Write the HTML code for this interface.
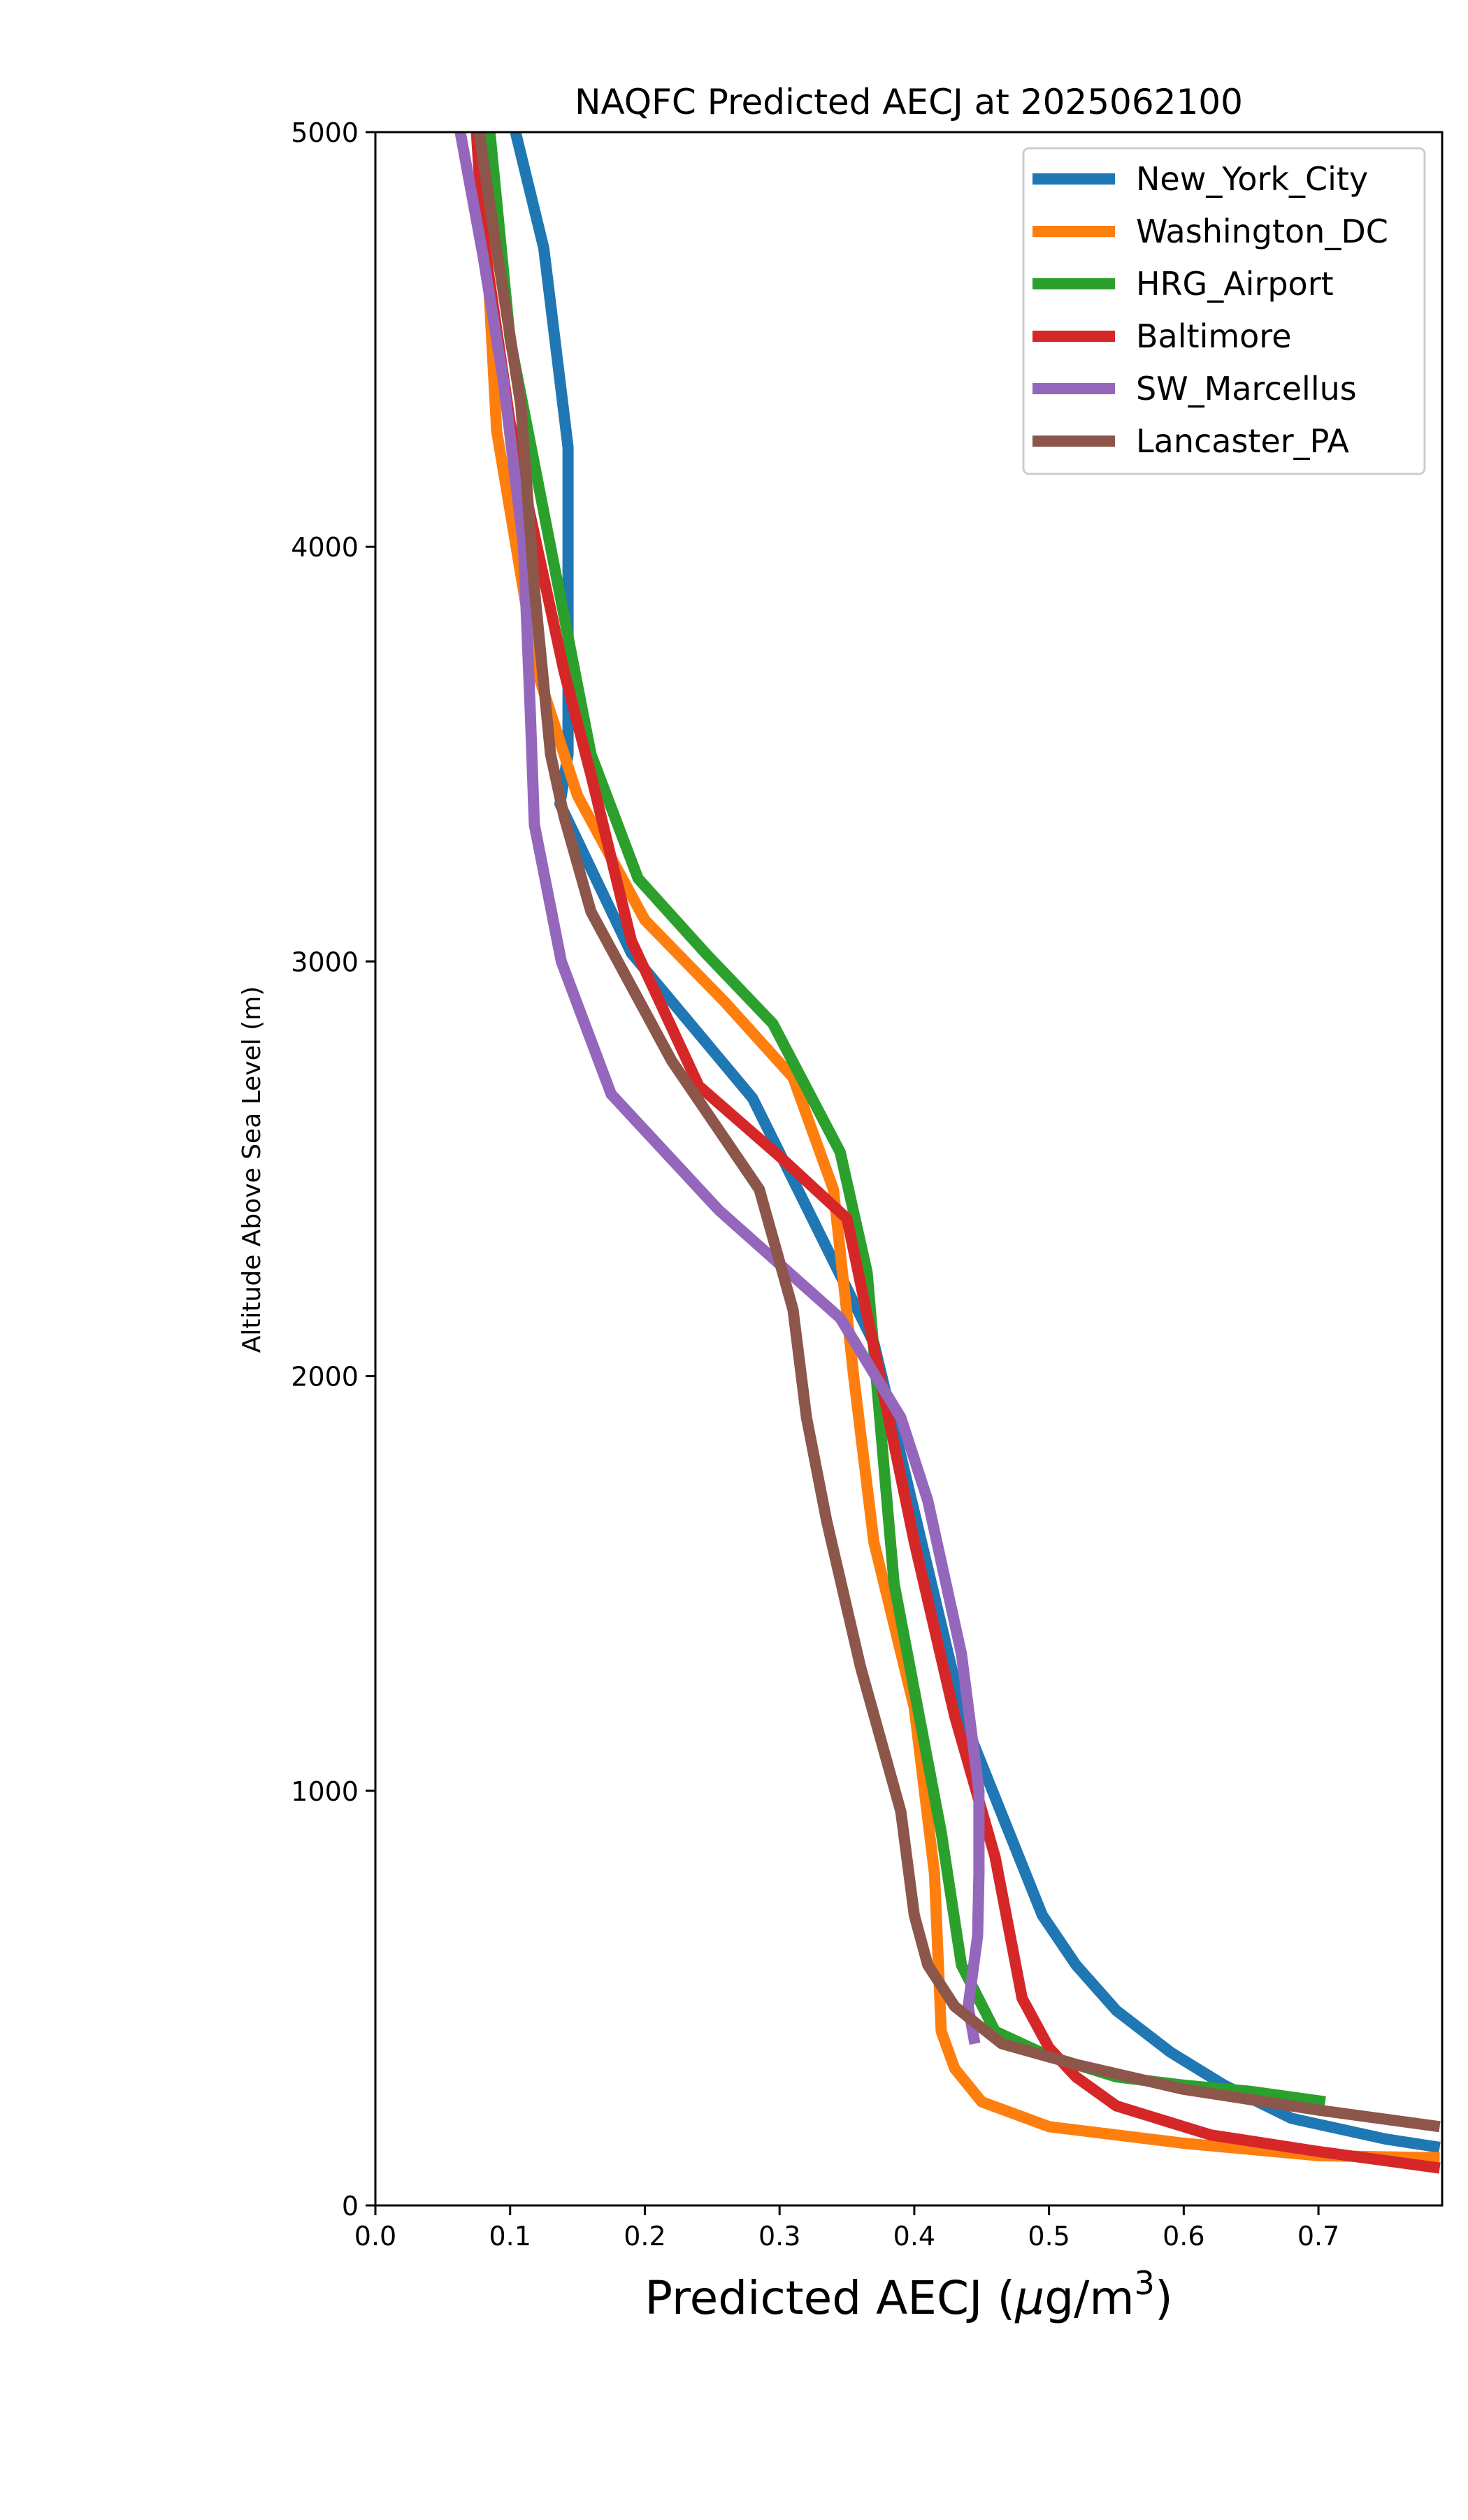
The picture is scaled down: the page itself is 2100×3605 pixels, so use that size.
<!DOCTYPE html>
<html><head><meta charset="utf-8"><style>
body{margin:0;background:#fff}
svg text{font-family:"DejaVu Sans","Liberation Sans",sans-serif;fill:#000}
</style></head><body>
<svg id="chart" width="2100" height="3600" viewBox="0 0 2100 3600" xmlns="http://www.w3.org/2000/svg">
<rect width="2100" height="3600" fill="#fff"/>
<text x="1300" y="163" font-size="50" text-anchor="middle">NAQFC Predicted AECJ at 2025062100</text>
<g id="plot"></g>
<g id="axes"></g>
<text x="1300" y="3310" font-size="66" text-anchor="middle">Predicted AECJ (<tspan font-style="italic">μ</tspan>g/m<tspan font-size="46" dy="-28">3</tspan><tspan dy="28">)</tspan></text>
<text transform="translate(372,1673) rotate(-90)" font-size="36" text-anchor="middle">Altitude Above Sea Level (m)</text>
<g id="legend"></g>
</svg>
<script>
const seriesNames=["New_York_City","Washington_DC","HRG_Airport","Baltimore","SW_Marcellus","Lancaster_PA"];
const seriesColors=["#1f77b4","#ff7f0e","#2ca02c","#d62728","#9467bd","#8c564b"];
const nycX=[0.104,0.125,0.143,0.143,0.143,0.137,0.19,0.28,0.37,0.437,0.495,0.52,0.55,0.59,0.63,0.68,0.75,0.79];
const nycAlt=[5000,4720,4240,3600,3500,3380,3020,2670,2080,1170,700,580,470,370,290,210,160,140];
const dcX=[0.078,0.09,0.12,0.15,0.2,0.26,0.31,0.34,0.355,0.37,0.4,0.415,0.42,0.43,0.45,0.5,0.6,0.7,0.79];
const dcAlt=[5000,4280,3700,3400,3100,2900,2720,2450,2000,1600,1200,800,420,330,250,190,150,120,115];
const hrgX=[0.085,0.1,0.13,0.16,0.195,0.245,0.295,0.345,0.365,0.385,0.42,0.435,0.46,0.5,0.55,0.6,0.65,0.705];
const hrgAlt=[5000,4500,4000,3500,3200,3020,2850,2540,2250,1500,900,580,420,360,310,290,275,250];
const balX=[0.075,0.08,0.1,0.14,0.16,0.19,0.24,0.3,0.35,0.37,0.4,0.43,0.46,0.48,0.5,0.52,0.55,0.62,0.7,0.79];
const balAlt=[5000,4750,4300,3700,3450,3050,2700,2530,2380,2070,1600,1180,840,500,380,310,240,170,130,90];
const swmX=[0.063,0.08,0.095,0.11,0.115,0.118,0.138,0.175,0.255,0.345,0.39,0.41,0.435,0.448,0.448,0.447,0.44,0.445];
const swmAlt=[5000,4700,4400,4000,3600,3330,3000,2680,2400,2140,1900,1700,1330,1000,800,650,480,390];
const lanX=[0.077,0.087,0.108,0.118,0.13,0.14,0.16,0.22,0.285,0.31,0.32,0.335,0.36,0.39,0.4,0.41,0.43,0.465,0.52,0.6,0.7,0.79];
const lanAlt=[5000,4780,4340,3900,3500,3350,3120,2760,2450,2160,1900,1650,1300,950,700,580,480,390,340,280,230,190];
const xTicks=[0,0.1,0.2,0.3,0.4,0.5,0.6,0.7];
const xTickLabels=["0.0","0.1","0.2","0.3","0.4","0.5","0.6","0.7"];
const yTicks=[0,1000,2000,3000,4000,5000];
const yTickLabels=["0","1000","2000","3000","4000","5000"];

const L=537,R=2063,T=189,B=3155,XMAX=0.7918,YMAX=5000;
const sx=v=>L+v/XMAX*(R-L);
const sy=v=>B-v/YMAX*(B-T);
const NS="http://www.w3.org/2000/svg";
function mk(tag,parent){const e=document.createElementNS(NS,tag);parent.appendChild(e);return e;}
const plot=document.getElementById('plot'),axes=document.getElementById('axes'),legend=document.getElementById('legend');
const cp=mk('clipPath',plot);cp.setAttribute('id','clip');
const cr=mk('rect',cp);cr.setAttribute('x',L);cr.setAttribute('y',T);cr.setAttribute('width',R-L);cr.setAttribute('height',B-T);
const allX=[nycX,dcX,hrgX,balX,swmX,lanX],allY=[nycAlt,dcAlt,hrgAlt,balAlt,swmAlt,lanAlt];
allX.forEach((xs,i)=>{
  const p=mk('polyline',plot);
  
  
  p.setAttribute('points',xs.map((x,j)=>sx(x)+','+sy(allY[i][j])).join(' '));
  p.setAttribute('fill','none');p.setAttribute('stroke',seriesColors[i]);
  p.setAttribute('stroke-width','16');p.setAttribute('stroke-linejoin','round');
  p.setAttribute('clip-path','url(#clip)');
});
const frame=mk('rect',axes);


frame.setAttribute('x',L);frame.setAttribute('y',T);frame.setAttribute('width',R-L);frame.setAttribute('height',B-T);
frame.setAttribute('fill','none');frame.setAttribute('stroke','#000');frame.setAttribute('stroke-width','3');
xTicks.forEach((v,i)=>{
  const t=mk('line',axes);
  
  
  t.setAttribute('x1',sx(v));t.setAttribute('x2',sx(v));t.setAttribute('y1',B);t.setAttribute('y2',B+14);t.setAttribute('stroke','#000');t.setAttribute('stroke-width','3');
  const tx=mk('text',axes);
  
  
  tx.setAttribute('x',sx(v));tx.setAttribute('y',B+57);tx.setAttribute('font-size','38');tx.setAttribute('text-anchor','middle');tx.textContent=xTickLabels[i];
});
yTicks.forEach((v,i)=>{
  const t=mk('line',axes);
  
  
  t.setAttribute('x1',L-14);t.setAttribute('x2',L);t.setAttribute('y1',sy(v));t.setAttribute('y2',sy(v));t.setAttribute('stroke','#000');t.setAttribute('stroke-width','3');
  const tx=mk('text',axes);
  
  
  tx.setAttribute('x',L-24);tx.setAttribute('y',sy(v)+14);tx.setAttribute('font-size','38');tx.setAttribute('text-anchor','end');tx.textContent=yTickLabels[i];
});
const lb=mk('rect',legend);


lb.setAttribute('x',1464);lb.setAttribute('y',212);lb.setAttribute('width',574);lb.setAttribute('height',466);lb.setAttribute('rx','8');
lb.setAttribute('fill','#fff');lb.setAttribute('fill-opacity','0.8');lb.setAttribute('stroke','#ccc');lb.setAttribute('stroke-width','3');
seriesNames.forEach((n,i)=>{
  const y=256+i*75;
  const g=mk('g',legend);
  
  
  const ln=mk('line',g);
  
  
  ln.setAttribute('x1',1477);ln.setAttribute('x2',1595);ln.setAttribute('y1',y);ln.setAttribute('y2',y);ln.setAttribute('stroke',seriesColors[i]);ln.setAttribute('stroke-width','16');
  const tx=mk('text',g);
  
  
  tx.setAttribute('x',1625);tx.setAttribute('y',y+16);tx.setAttribute('font-size','46');tx.textContent=n;
});
</script>
</body></html>
